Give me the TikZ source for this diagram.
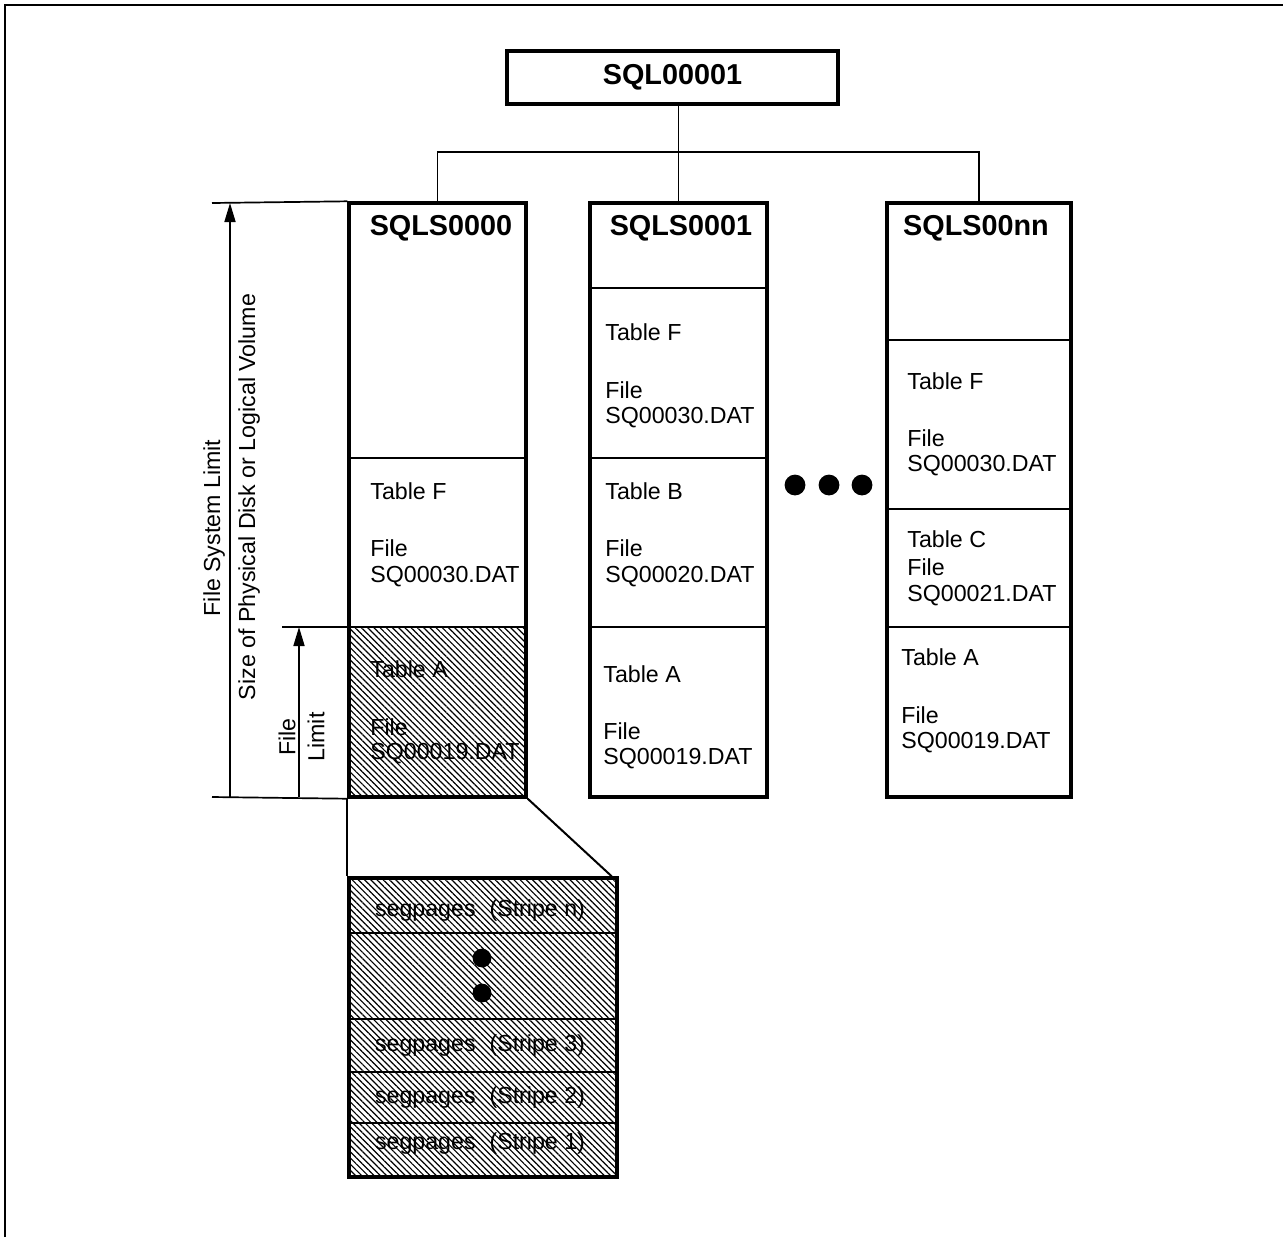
\documentclass[tikz,border=0pt]{standalone}
\usepackage{fontspec}
\setmainfont{Liberation Sans}
\usetikzlibrary{patterns.meta,arrows.meta}
\tikzset{
	box/.style={draw,line width=1.7pt,inner sep=0pt},
	sep/.style={line width=0.6pt},
	dim/.style={line width=0.85pt},
	dimarrow/.style={dim,-{Triangle[length=9.5pt,width=5.5pt]}},
	txt/.style={anchor=west,inner sep=0pt,font=\fontsize{11.6}{13}\selectfont},
	head/.style={inner sep=0pt,font=\fontsize{14.4}{16}\selectfont\bfseries},
	hatch/.style={pattern={Lines[angle=-45,distance=2.2pt,line width=0.6pt]}}
}
\begin{document}
\begin{tikzpicture}[x=0.5pt,y=-0.5pt]
	\useasboundingbox (0,0) rectangle (1283,1237);
	\draw [line width=1pt] (5,1237) -- (5,5) -- (1283,5);
	\node [box,head,minimum width=165.5pt,minimum height=26.5pt] (root) at (672.5,77.5) {SQL00001};
	\fill [hatch] (349,627) rectangle (526,797);
	\node [box,minimum width=88.5pt,minimum height=297pt] (c0) at (437.5,500) {};
	\node [box,minimum width=88.5pt,minimum height=297pt] (c1) at (678.5,500) {};
	\node [box,minimum width=92pt,minimum height=297pt] (c2) at (979,500) {};
	\coordinate (bus) at (678.5,152);
	\draw [dim] (root.south -| c1) -- (bus) -- (c1.north);
	\draw [dim] (c0.north) |- (bus) -| (c2.north);
	\draw [sep] (c0.west |- 0,458) -- (c0.east |- 0,458);
	\draw [sep] (c0.west |- 0,627) -- (c0.east |- 0,627);
	\draw [sep] (c1.west |- 0,288) -- (c1.east |- 0,288);
	\draw [sep] (c1.west |- 0,458) -- (c1.east |- 0,458);
	\draw [sep] (c1.west |- 0,627) -- (c1.east |- 0,627);
	\draw [sep] (c2.west |- 0,340) -- (c2.east |- 0,340);
	\draw [sep] (c2.west |- 0,509) -- (c2.east |- 0,509);
	\draw [sep] (c2.west |- 0,627) -- (c2.east |- 0,627);
	\node [head] (c0h) at (441,228) {SQLS0000};
	\node [txt] (c0ft) at (370,491) {Table F};
	\node [txt] (c0ff) at (370,548) {File};
	\node [txt] (c0fn) at (370,577) {SQ00030.DAT};
	\node [txt] (c0at) at (370,669) {Table A};
	\node [txt] (c0af) at (370,727) {File};
	\node [txt] (c0an) at (370,754) {SQ00019.DAT};
	\node [head] (c1h) at (681,228) {SQLS0001};
	\node [txt] (c1ft) at (605,332) {Table F};
	\node [txt] (c1ff) at (605,390) {File};
	\node [txt] (c1fn) at (605,418) {SQ00030.DAT};
	\node [txt] (c1bt) at (605,491) {Table B};
	\node [txt] (c1bf) at (605,548) {File};
	\node [txt] (c1bn) at (605,577) {SQ00020.DAT};
	\node [txt] (c1at) at (603,674) {Table A};
	\node [txt] (c1af) at (603,731) {File};
	\node [txt] (c1an) at (603,759) {SQ00019.DAT};
	\node [head] (c2h) at (976,228) {SQLS00nn};
	\node [txt] (c2ft) at (907,381) {Table F};
	\node [txt] (c2ff) at (907,438) {File};
	\node [txt] (c2fn) at (907,466) {SQ00030.DAT};
	\node [txt] (c2ct) at (907,539) {Table C};
	\node [txt] (c2cf) at (907,567) {File};
	\node [txt] (c2cn) at (907,596) {SQ00021.DAT};
	\node [txt] (c2at) at (901,657) {Table A};
	\node [txt] (c2af) at (901,715) {File};
	\node [txt] (c2an) at (901,743) {SQ00019.DAT};
	\fill (795,485) circle (5.2pt) (829,485) circle (5.2pt) (862,485) circle (5.2pt);
	\coordinate (ftop) at (212,203);
	\coordinate (fbot) at (212,797);
	\coordinate (fmid) at (282,627);
	\draw [dim] (ftop) -- (c0.north west);
	\draw [dim] (fbot) -- (c0.south west);
	\draw [dim] (fmid) -- (c0.west |- fmid);
	\draw [dimarrow] (230,797) -- (230,203);
	\draw [dimarrow] (299,797) -- (299,627);
	\node [txt,anchor=center,rotate=90] (fsl) at (214,528) {File System Limit};
	\node [txt,anchor=center,rotate=90] (vol) at (249,497) {Size of Physical Disk or Logical Volume};
	\node [txt,anchor=center,rotate=90] (fl1) at (287,737) {File};
	\node [txt,anchor=center,rotate=90] (fl2) at (316,737) {Limit};
	\node [box,hatch,minimum width=134pt,minimum height=149.5pt] (zoom) at (483,1027.5) {};
	\draw [sep] (zoom.west |- 0,933) -- (zoom.east |- 0,933);
	\draw [sep] (zoom.west |- 0,1019) -- (zoom.east |- 0,1019);
	\draw [sep] (zoom.west |- 0,1072) -- (zoom.east |- 0,1072);
	\draw [sep] (zoom.west |- 0,1123) -- (zoom.east |- 0,1123);
	\draw [line width=1pt] (c0.south west) -- (zoom.north west);
	\draw [line width=1pt] (c0.south east) -- ([xshift=-3.5pt]zoom.north east);
	\node [txt,anchor=center] (sn) at (480,910) {segpages\hspace{0.6em}(Stripe n)};
	\fill (482,958) circle (4.7pt) (482,993) circle (4.7pt);
	\node [txt,anchor=center] (s3) at (480,1045) {segpages\hspace{0.6em}(Stripe 3)};
	\node [txt,anchor=center] (s2) at (480,1097) {segpages\hspace{0.6em}(Stripe 2)};
	\node [txt,anchor=center] (s1) at (480,1143) {segpages\hspace{0.6em}(Stripe 1)};
\end{tikzpicture}
\end{document}
